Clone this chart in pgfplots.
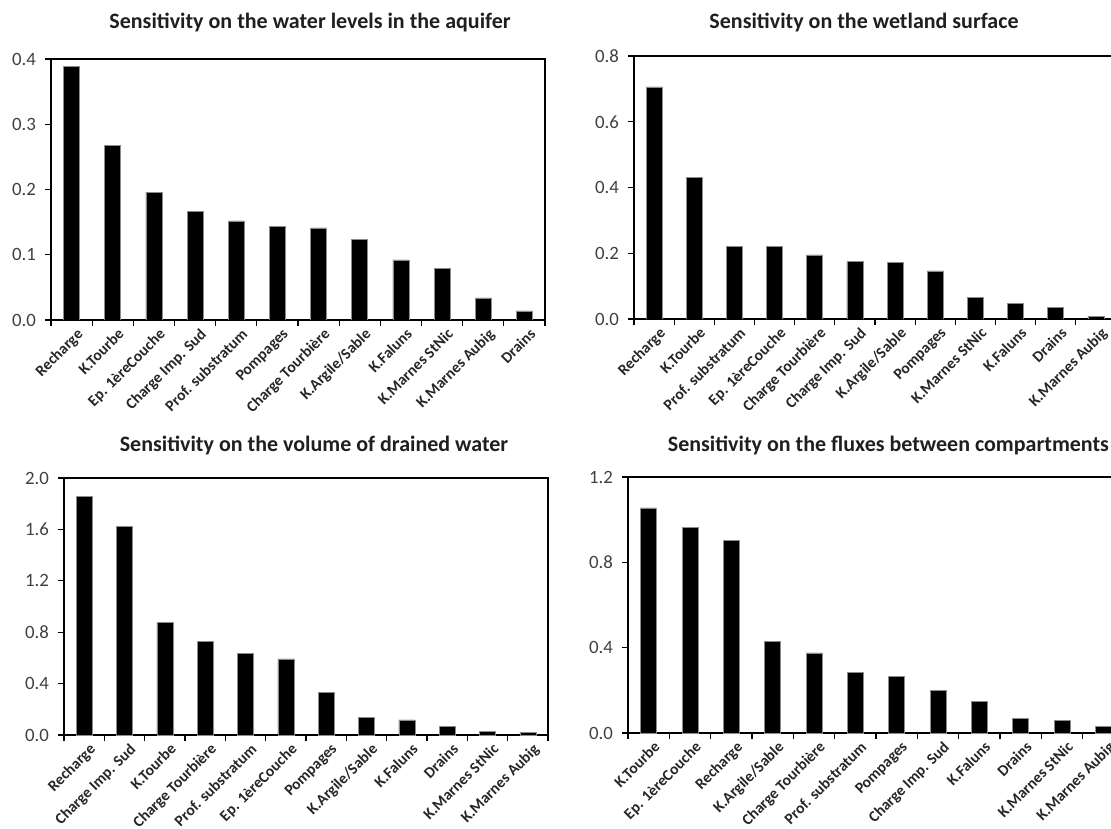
\documentclass[border=0pt]{standalone}
\usepackage{pgfplots}
\pgfplotsset{compat=1.18}
\usepackage{fontspec}
\setmainfont{Carlito}

\definecolor{ticktext}{HTML}{404040}
\definecolor{cattext}{HTML}{262626}
\definecolor{titletext}{HTML}{1F1F1F}

% common look of the four sensitivity panels
\pgfplotsset{
  sens/.style={
    scale only axis, anchor=south west,
    ybar, bar width=8pt, bar shift=0pt,
    enlargelimits=false, ymin=0, xmin=-0.5, xmax=11.5,
    axis line style={line width=1pt, black},
    tick pos=left, tick align=outside, major tick length=3pt,
    every tick/.style={black, line width=0.6pt},
    xtick={-0.5,0.5,...,11.5}, xticklabels={},
    extra x ticks={0,1,...,11},
    extra x tick style={major tick length=0pt,
      tick label style={rotate=45, anchor=north east, inner sep=1pt,
        font=\bfseries\fontsize{7.8}{9}\selectfont, text=cattext,
        xshift=0pt, yshift=-3pt}},
    yticklabel style={font=\fontsize{9.4}{10}\selectfont, text=ticktext, xshift=-1pt},
    /pgf/number format/fixed, /pgf/number format/fixed zerofill,
    /pgf/number format/precision=1, /pgf/number format/assume math mode=true,
  },
  barstyle/.style={fill=black, draw=black!45, line width=0.3pt},
}

\begin{document}
\begin{tikzpicture}
\tikzset{ttl/.style={font=\bfseries\fontsize{11}{13}\selectfont, text=titletext, anchor=center}}

% water levels in the aquifer
\begin{axis}[sens, at={(25.5pt,254pt)}, width=247pt, height=130.5pt,
  ymax=0.4, ytick={0,0.1,...,0.4},
  extra x tick labels={Recharge, K.Tourbe, Ep. 1èreCouche, Charge Imp. Sud, Prof. substratum, Pompages, Charge Tourbière, K.Argile/Sable, K.Faluns, K.Marnes StNic, K.Marnes Aubig, Drains}]
\addplot[barstyle] coordinates {(0,0.389) (1,0.268) (2,0.196) (3,0.166) (4,0.152) (5,0.143) (6,0.141) (7,0.123) (8,0.092) (9,0.079) (10,0.034) (11,0.014)};
\end{axis}

% wetland surface
\begin{axis}[sens, at={(317pt,254.5pt)}, width=241pt, height=131.5pt,
  ymax=0.8, ytick={0,0.2,...,0.8},
  extra x tick labels={Recharge, K.Tourbe, Prof. substratum, Ep. 1èreCouche, Charge Tourbière, Charge Imp. Sud, K.Argile/Sable, Pompages, K.Marnes StNic, K.Faluns, Drains, K.Marnes Aubig}]
\addplot[barstyle] coordinates {(0,0.706) (1,0.430) (2,0.221) (3,0.221) (4,0.195) (5,0.174) (6,0.171) (7,0.146) (8,0.065) (9,0.048) (10,0.036) (11,0.007)};
\end{axis}

% volume of drained water
\begin{axis}[sens, at={(32pt,46.5pt)}, width=242pt, height=128.5pt,
  ymax=2.0, ytick={0,0.4,...,2.0},
  extra x tick labels={Recharge, Charge Imp. Sud, K.Tourbe, Charge Tourbière, Prof. substratum, Ep. 1èreCouche, Pompages, K.Argile/Sable, K.Faluns, Drains, K.Marnes StNic, K.Marnes Aubig}]
\addplot[barstyle] coordinates {(0,1.855) (1,1.623) (2,0.875) (3,0.727) (4,0.636) (5,0.592) (6,0.332) (7,0.138) (8,0.117) (9,0.068) (10,0.031) (11,0.018)};
\end{axis}

% fluxes between compartments
\begin{axis}[sens, at={(314pt,47.5pt)}, width=248pt, height=128pt,
  ymax=1.2, ytick={0,0.4,...,1.2},
  extra x tick labels={K.Tourbe, Ep. 1èreCouche, Recharge, K.Argile/Sable, Charge Tourbière, Prof. substratum, Pompages, Charge Imp. Sud, K.Faluns, Drains, K.Marnes StNic, K.Marnes Aubig}]
\addplot[barstyle] coordinates {(0,1.055) (1,0.964) (2,0.903) (3,0.431) (4,0.375) (5,0.284) (6,0.266) (7,0.200) (8,0.147) (9,0.069) (10,0.058) (11,0.030)};
\end{axis}

\node[ttl] at (155pt,402.5pt) {Sensitivity on the water levels in the aquifer};
\node[ttl] at (432pt,402.5pt) {Sensitivity on the wetland surface};
\node[ttl] at (157pt,191pt) {Sensitivity on the volume of drained water};
\node[ttl, anchor=east] at (558pt,191pt) {Sensitivity on the fluxes between compartments};

\pgfresetboundingbox
\useasboundingbox (0,0) rectangle (555.5pt,414pt);
\end{tikzpicture}
\end{document}
